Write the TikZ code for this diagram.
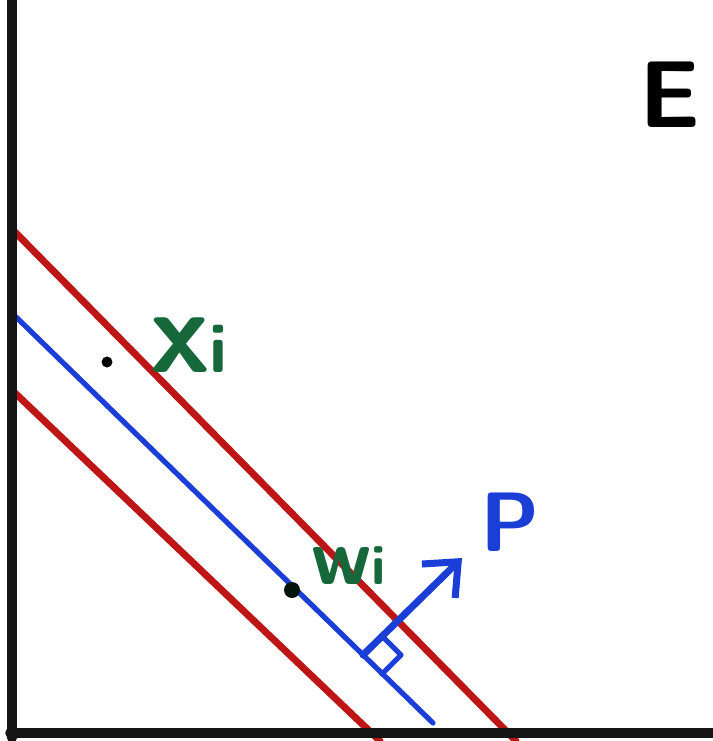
\documentclass[tikz,border=0pt]{standalone}
\usetikzlibrary{arrows.meta}
\usetikzlibrary{positioning}
\definecolor{penred}{RGB}{190,22,22}
\definecolor{penblue}{RGB}{26,62,214}
\definecolor{pengreen}{RGB}{22,104,58}

\begin{document}
\begin{tikzpicture}[x=0.2mm, y=-0.2mm, line cap=round,
  axis/.style={line width=1.9mm, black!92},
  margin/.style={line width=1.4mm, penred},
  plane/.style={line width=1.05mm, penblue},
  penlabel/.style={font=\sffamily\bfseries, inner sep=0pt}]
  \useasboundingbox (0,0) rectangle (713,741);
  % margin lines (red) and the plane (blue)
  \coordinate (redtopA) at (15,232);
  \coordinate (redtopB) at (516,741);
  \coordinate (redlowA) at (15,393);
  \coordinate (redlowB) at (380,741);
  \coordinate (blueA) at (15,316);
  \coordinate (blueB) at (433,723);
  \draw[margin] (redtopA) -- (redtopB);
  \draw[margin] (redlowA) -- (redlowB);
  \draw[plane] (blueA) -- (blueB);
  % right angle mark and normal vector P
  \coordinate (foot) at (363,655);
  \coordinate (tip) at (462,558);
  \draw[plane, line join=round] (foot) -- ++(19,-19) -- ++(19,19) -- ++(-19,19);
  \draw[penblue, line width=1.4mm, -{Straight Barb[length=5.5mm, width=9.5mm]}] (foot) -- (tip);
  \node[penlabel, penblue, font=\fontsize{48}{48}\sffamily\bfseries] (P) at (510,522) {P};
  % points x_i and w_i
  \fill[black] (107,362) circle (5.5);
  \node[penlabel, pengreen] (xi) at (189,345) {\fontsize{68}{68}\selectfont x\fontsize{40}{40}\selectfont i};
  \fill[black!80!pengreen] (292,590) circle (8);
  \node[penlabel, pengreen] (wi) at (349,566) {\fontsize{46}{46}\selectfont w\fontsize{32}{32}\selectfont i};
  % space label
  \node[penlabel, font=\fontsize{54}{54}\sffamily\bfseries] (E) at (670,95) {E};
  % axes
  \coordinate (ytop) at (12,0);
  \coordinate (origin) at (12,733);
  \coordinate (xend) at (713,733);
  \draw[axis] (ytop) -- (12,738);
  \draw[axis] (10,733) -- (xend);
\end{tikzpicture}
\end{document}
